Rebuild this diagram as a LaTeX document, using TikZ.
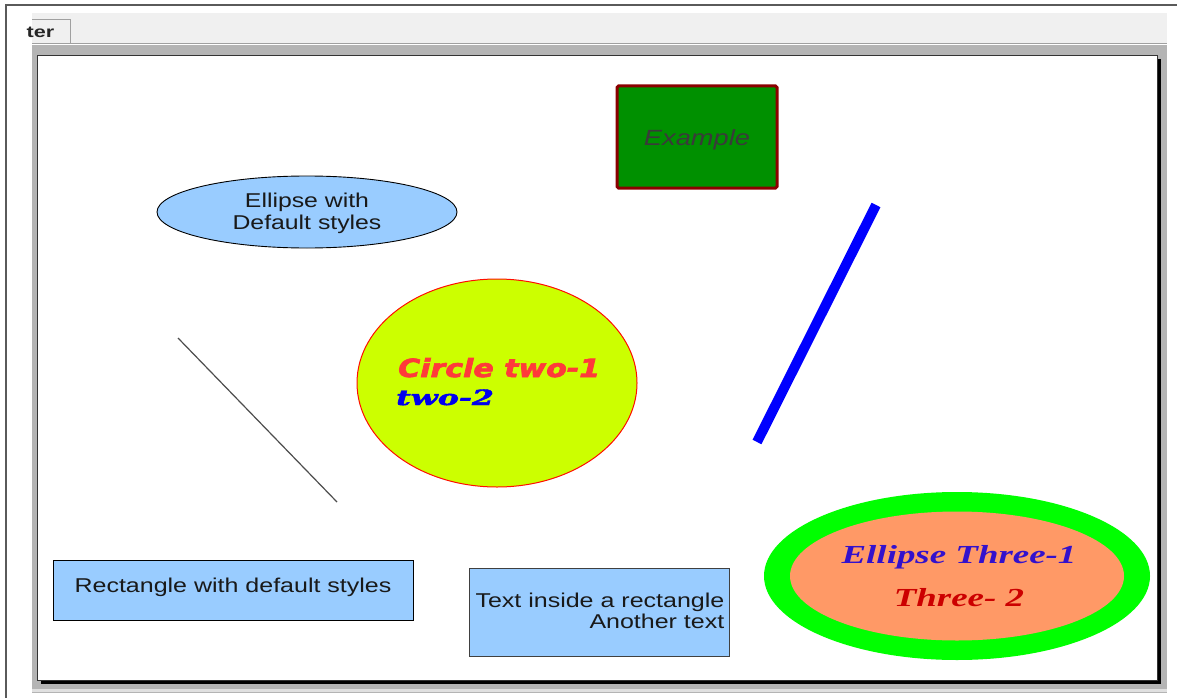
\documentclass[tikz,border=0pt]{standalone}
\usepackage{fontspec}
\setmainfont{Liberation Sans}
\newfontfamily\blacksans[FakeBold=2.5]{DejaVu Sans}
\newfontfamily\blackserif[FakeBold=2]{DejaVu Serif}
\newfontfamily\scriptface{Liberation Serif}
\usetikzlibrary{shapes.geometric}

\definecolor{framegray}{HTML}{5A5A5A}
\definecolor{tabbar}{HTML}{F0F0F0}
\definecolor{tabline}{HTML}{A0A0A0}
\definecolor{workspace}{HTML}{B4B4B4}
\definecolor{skyfill}{HTML}{99CCFF}
\definecolor{boxgreen}{HTML}{009000}
\definecolor{boxred}{HTML}{8B0000}
\definecolor{exgray}{HTML}{3A3A3A}
\definecolor{limefill}{HTML}{CCFF00}
\definecolor{circred}{HTML}{FF3A3A}
\definecolor{circblue}{HTML}{0000EE}
\definecolor{ringgreen}{HTML}{00FF00}
\definecolor{salmonfill}{HTML}{FF9966}
\definecolor{inkviolet}{HTML}{3311CC}
\definecolor{inkred}{HTML}{CC0000}
\definecolor{linegray}{HTML}{4D4D4D}

% horizontally stretched text
\newcommand\stretchx[2]{\scalebox{#1}[1]{#2}}

\begin{document}
\begin{tikzpicture}[x=1pt,y=-1pt,
  shapebox/.style={inner sep=0pt, outer sep=0pt},
  sky/.style={shapebox, fill=skyfill, draw=black, line width=0.9pt},
  plainfont/.style={inner sep=0pt, font=\fontsize{20}{21}\selectfont, text=black!90},
]
\useasboundingbox (0,0) rectangle (1177,698);
\fill[white] (0,0) rectangle (1177,698);

% window chrome
\draw[framegray, line width=1.3pt] (6,698) -- (6,5) -- (1177,5);
\fill[tabbar] (32,13) rectangle (1167,43);
\fill[black!6] (32,19) rectangle (70,43);
\draw[tabline, line width=0.8pt] (32,19) -- (70,19) -- (70,43);
\node[inner sep=0pt, text=black!85, font=\bfseries\fontsize{16}{16}\selectfont] (tabtext) at (40.5,32) {\stretchx{1.35}{ter}};
\draw[tabline, line width=1pt] (32,44) -- (1167,44);
\fill[workspace] (32,45) rectangle (1167,689);
\fill[black!12] (32,689) rectangle (1167,691.5);
\draw[workspace, line width=1pt] (32,692.5) -- (1167,692.5);

% drawing canvas with drop shadow
\fill[black] (41,59) rectangle (1161,683.5);
\draw[fill=white, draw=black!80, line width=1pt] (37,56) rectangle (1157,680);

% green box
\node[shapebox, rectangle, minimum width=160, minimum height=102, fill=boxgreen,
      draw=boxred, line width=3pt, rounded corners=1.5pt] (example) at (697,137) {};
\node[anchor=base, inner sep=0pt, text=exgray, font=\itshape\fontsize{22}{22}\selectfont]
  (exlabel) at (697,145) {\stretchx{1.24}{Example}};

% ellipse with default styles
\node[sky, ellipse, minimum width=300, minimum height=72] (ellone) at (307,212) {};
\node[plainfont, font=\fontsize{20}{22}\selectfont] (ellonetext) at (307,213.6)
  {\stretchx{1.24}{\begin{tabular}{@{}c@{}}Ellipse with\\Default styles\end{tabular}}};

% thin diagonal line
\coordinate (thinA) at (178,338);
\coordinate (thinB) at (337,502);
\draw[linegray, line width=1.2pt] (thinA) -- (thinB);

% yellow circle
\node[shapebox, ellipse, minimum width=280, minimum height=208, fill=limefill,
      draw=red!90!orange, line width=1pt] (circ) at (497,383) {};
\node[anchor=base west, inner sep=0pt, text=circred,
      font=\blacksans\bfseries\itshape\fontsize{25}{25}\selectfont] (circone) at (398,377)
  {\stretchx{1.2}{Circle two-1}};
\node[anchor=base west, inner sep=0pt, text=circblue,
      font=\blackserif\bfseries\itshape\fontsize{21}{21}\selectfont] (circtwo) at (396,405)
  {\stretchx{1.5}{two-2}};

% thick blue bar
\coordinate (barA) at (757,442);
\coordinate (barB) at (876,205);
\draw[blue, line width=10pt] (barA) -- (barB);

% rectangles
\node[sky, rectangle, minimum width=360, minimum height=60] (rectone) at (233,590) {};
\node[plainfont, anchor=base] (rectonetext) at (233,592)
  {\stretchx{1.25}{Rectangle with default styles}};
\node[sky, rectangle, minimum width=260, minimum height=88, draw=black!75] (recttwo) at (599,612) {};
\node[plainfont, anchor=east] (recttwotext) at (724.5,613.3)
  {\stretchx{1.25}{\begin{tabular}{@{}r@{}}Text inside a rectangle\\Another text\end{tabular}}};

% ringed ellipse
\node[shapebox, ellipse, minimum width=386, minimum height=168, fill=ringgreen] (ring) at (957,576) {};
\node[shapebox, ellipse, minimum width=334, minimum height=129, fill=salmonfill] (oval) at (ring) {};
\node[inner sep=0pt, font=\scriptface\bfseries\itshape\fontsize{26}{43}\selectfont] (ovaltext) at (959,576)
  {\stretchx{1.42}{\begin{tabular}{@{}c@{}}\textcolor{inkviolet}{Ellipse Three-1}\\\textcolor{inkred}{Three- 2}\end{tabular}}};
\end{tikzpicture}
\end{document}
